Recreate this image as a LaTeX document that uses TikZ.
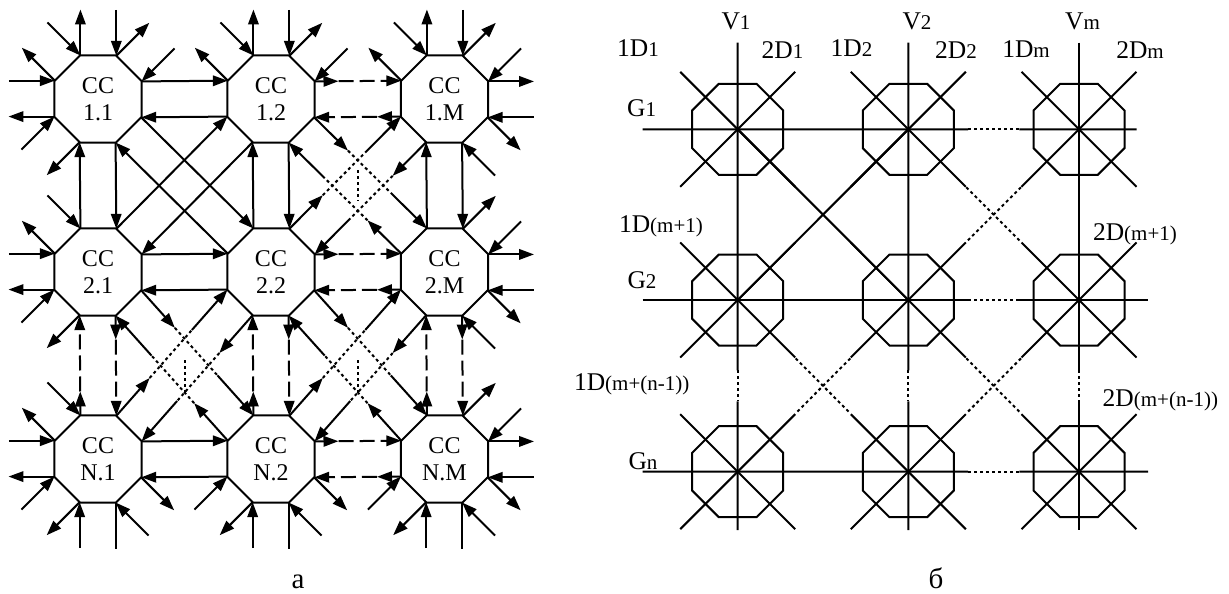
\documentclass[tikz,border=0pt]{standalone}
\usepackage{fontspec}
\setmainfont{Liberation Serif}
\usetikzlibrary{calc,arrows.meta,shapes.geometric}
\tikzset{
  cc/.style={draw,regular polygon,regular polygon sides=8,minimum size=94.2pt,
    inner sep=0pt,outer sep=0pt,align=center,font=\fontsize{24}{27}\selectfont},
  gg/.style={draw,regular polygon,regular polygon sides=8,minimum size=98.5pt,
    inner sep=0pt,outer sep=0pt},
  arr/.style={-{Triangle[length=15pt,width=10.5pt]}},
  longdash/.style={dash pattern=on 15pt off 6pt},
  dotline/.style={dash pattern=on 3pt off 3pt},
  lbl/.style={inner sep=0pt,anchor=base,font=\fontsize{25.5}{25.5}\selectfont},
  captxt/.style={inner sep=0pt,anchor=base,font=\fontsize{29}{29}\selectfont},
}
\newcommand\ix[1]{{\fontsize{21}{21}\selectfont#1}}

\begin{document}
\begin{tikzpicture}[x=1pt,y=-1pt,line width=2pt]
  \useasboundingbox (0,0) rectangle (1229,594);
  % (a) grid of CC nodes
  \foreach \r/\y/\rl in {1/99/1,2/272/2,3/459/N}
    \foreach \c/\x/\cl in {1/98/1,2/271/2,3/444.5/M}
      \node[cc] (c\r\c) at (\x,\y) {CC\\\rl.\cl};
  % free ends on the border
  \foreach \nd in {c11,c12,c13}{
    \draw[arr] (\nd.112.5) -- ++(0,-46);
    \draw[arr] ($(\nd.67.5)+(0,-46)$) -- (\nd.67.5);}
  \foreach \nd in {c13,c23,c33}{
    \draw[arr] (\nd.22.5) -- ++(46,0);
    \draw[arr] ($(\nd.337.5)+(46,0)$) -- (\nd.337.5);}
  \foreach \nd in {c31,c32,c33}{
    \draw (\nd.292.5) -- ++(0,46);
    \draw[arr] ($(\nd.247.5)+(0,46)$) -- (\nd.247.5);}
  \foreach \nd in {c11,c21,c31}{
    \draw[arr] (\nd.202.5) -- ++(-46,0);
    \draw[arr] ($(\nd.157.5)+(-46,0)$) -- (\nd.157.5);}
  \foreach \nd in {c11,c12,c13,c21,c31}{
    \draw[arr] ($(\nd.112.5)+(-33,-33)$) -- (\nd.112.5);
    \draw[arr] (\nd.157.5) -- ++(-33,-33);}
  \foreach \nd in {c11,c12,c13,c23,c33}{
    \draw[arr] (\nd.67.5) -- ++(33,-33);
    \draw[arr] ($(\nd.22.5)+(33,-33)$) -- (\nd.22.5);}
  \foreach \nd in {c13,c23,c31,c32,c33}{
    \draw[arr] (\nd.337.5) -- ++(33,33);
    \draw[arr] ($(\nd.292.5)+(33,33)$) -- (\nd.292.5);}
  \foreach \nd in {c11,c21,c31,c32,c33}{
    \draw[arr] (\nd.247.5) -- ++(-33,33);
    \draw[arr] ($(\nd.202.5)+(-33,33)$) -- (\nd.202.5);}
  % solid links
  \foreach \a/\b in {c11/c12,c21/c22,c31/c32}{
    \draw[arr] (\a.22.5) -- (\b.157.5);
    \draw[arr] (\b.202.5) -- (\a.337.5);}
  \foreach \a/\b in {c11/c21,c12/c22,c13/c23}{
    \draw[arr] (\a.292.5) -- (\b.67.5);
    \draw[arr] (\b.112.5) -- (\a.247.5);}
  \draw[arr] (c11.337.5) -- (c22.112.5);
  \draw[arr] (c22.157.5) -- (c11.292.5);
  \draw[arr] (c12.247.5) -- (c21.22.5);
  \draw[arr] (c21.67.5) -- (c12.202.5);
  % dashed links
  \foreach \p/\q in {c12.22.5/c13.157.5,c13.202.5/c12.337.5,
      c22.22.5/c23.157.5,c23.202.5/c22.337.5,
      c32.22.5/c33.157.5,c33.202.5/c32.337.5,
      c21.292.5/c31.67.5,c31.112.5/c21.247.5,
      c22.292.5/c32.67.5,c32.112.5/c22.247.5,
      c23.292.5/c33.67.5,c33.112.5/c23.247.5}{
    \draw[arr] (\p) -- ($(\p)!24pt!(\q)$);
    \draw[arr,longdash] ($(\p)!24pt!(\q)$) -- (\q);}
  % dotted diagonal links
  \foreach \p/\q in {c12.337.5/c23.112.5,c23.157.5/c12.292.5,
      c13.247.5/c22.22.5,c22.67.5/c13.202.5,
      c21.337.5/c32.112.5,c32.157.5/c21.292.5,
      c22.247.5/c31.22.5,c31.67.5/c22.202.5,
      c22.337.5/c33.112.5,c33.157.5/c22.292.5,
      c23.247.5/c32.22.5,c32.67.5/c23.202.5}{
    \draw[arr] (\p) -- ($(\p)!.3!(\q)$);
    \draw[dotline] ($(\p)!.3!(\q)$) -- ($(\p)!.68!(\q)$);
    \draw[arr] ($(\p)!.68!(\q)$) -- (\q);}
  \draw[dotline] (357.75,170) -- (357.75,201);
  \draw[dotline] (184.5,360) -- (184.5,396);
  \draw[dotline] (357.75,360) -- (357.75,396);

  % (b) grid of switches
  \foreach \r/\y in {1/129.3,2/300,3/471.7}
    \foreach \c/\x in {1/737.7,2/908.3,3/1079}
      \node[gg] (g\r\c) at (\x,\y) {};
  % verticals
  \foreach \c in {1,2,3}{
    \draw ($(g1\c.center)+(0,-86.6)$) -- ($(g2\c.center)!.41!(g3\c.center)$);
    \draw[dotline] ($(g2\c.center)!.41!(g3\c.center)$) -- ($(g2\c.center)!.59!(g3\c.center)$);
    \draw ($(g2\c.center)!.59!(g3\c.center)$) -- ($(g3\c.center)+(0,58.3)$);}
  % horizontals
  \foreach \r/\e in {1/57.7,2/69,3/69}{
    \draw ($(g\r1.center)+(-95,0)$) -- ($(g\r2.center)!.35!(g\r3.center)$);
    \draw[dotline] ($(g\r2.center)!.35!(g\r3.center)$) -- ($(g\r2.center)!.65!(g\r3.center)$);
    \draw ($(g\r2.center)!.65!(g\r3.center)$) -- ($(g\r3.center)+(\e,0)$);}
  % diagonals
  \foreach \r in {1,2,3}
    \foreach \c in {1,2,3}{
      \draw ($(g\r\c.center)+(-57.5,-57.5)$) -- ($(g\r\c.center)+(57.5,57.5)$);
      \draw ($(g\r\c.center)+(57.5,-57.5)$) -- ($(g\r\c.center)+(-57.5,57.5)$);}
  \draw (g11.center) -- (g22.center);
  \draw (g12.center) -- (g21.center);
  \foreach \a/\b in {g12/g23,g21/g32,g22/g33,g13/g22,g22/g31,g23/g32}
    \draw[dotline] ($(\a.center)!.34!(\b.center)$) -- ($(\a.center)!.66!(\b.center)$);
  % labels
  \node[lbl] (lv1) at (736,30) {V\ix{1}};
  \node[lbl] (lv2) at (917,30) {V\ix{2}};
  \node[lbl] (lvm) at (1082.5,30) {V\ix{m}};
  \node[lbl] (la1) at (638,57) {1D\ix{1}};
  \node[lbl] (lb1) at (782.5,59) {2D\ix{1}};
  \node[lbl] (la2) at (851.5,57) {1D\ix{2}};
  \node[lbl] (lb2) at (956,59) {2D\ix{2}};
  \node[lbl] (lam) at (1026,58) {1D\ix{m}};
  \node[lbl] (lbm) at (1140,59) {2D\ix{m}};
  \node[lbl] (lg1) at (641.7,116.7) {G\ix{1}};
  \node[lbl] (lg2) at (642,288) {G\ix{2}};
  \node[lbl] (lgn) at (643,469.3) {G\ix{n}};
  \node[lbl,anchor=base west] (la3) at (618,232) {1D\ix{(m+1)}};
  \node[lbl,anchor=base west] (lb3) at (1092,240) {2D\ix{(m+1)}};
  \node[lbl,anchor=base west] (la4) at (573,390) {1D\ix{(m+(n-1))}};
  \node[lbl,anchor=base west] (lb4) at (1101.7,406.7) {2D\ix{(m+(n-1))}};
  \node[captxt] (capa) at (298,588) {а};
  \node[captxt] (capb) at (936,588) {б};
\end{tikzpicture}
\end{document}
